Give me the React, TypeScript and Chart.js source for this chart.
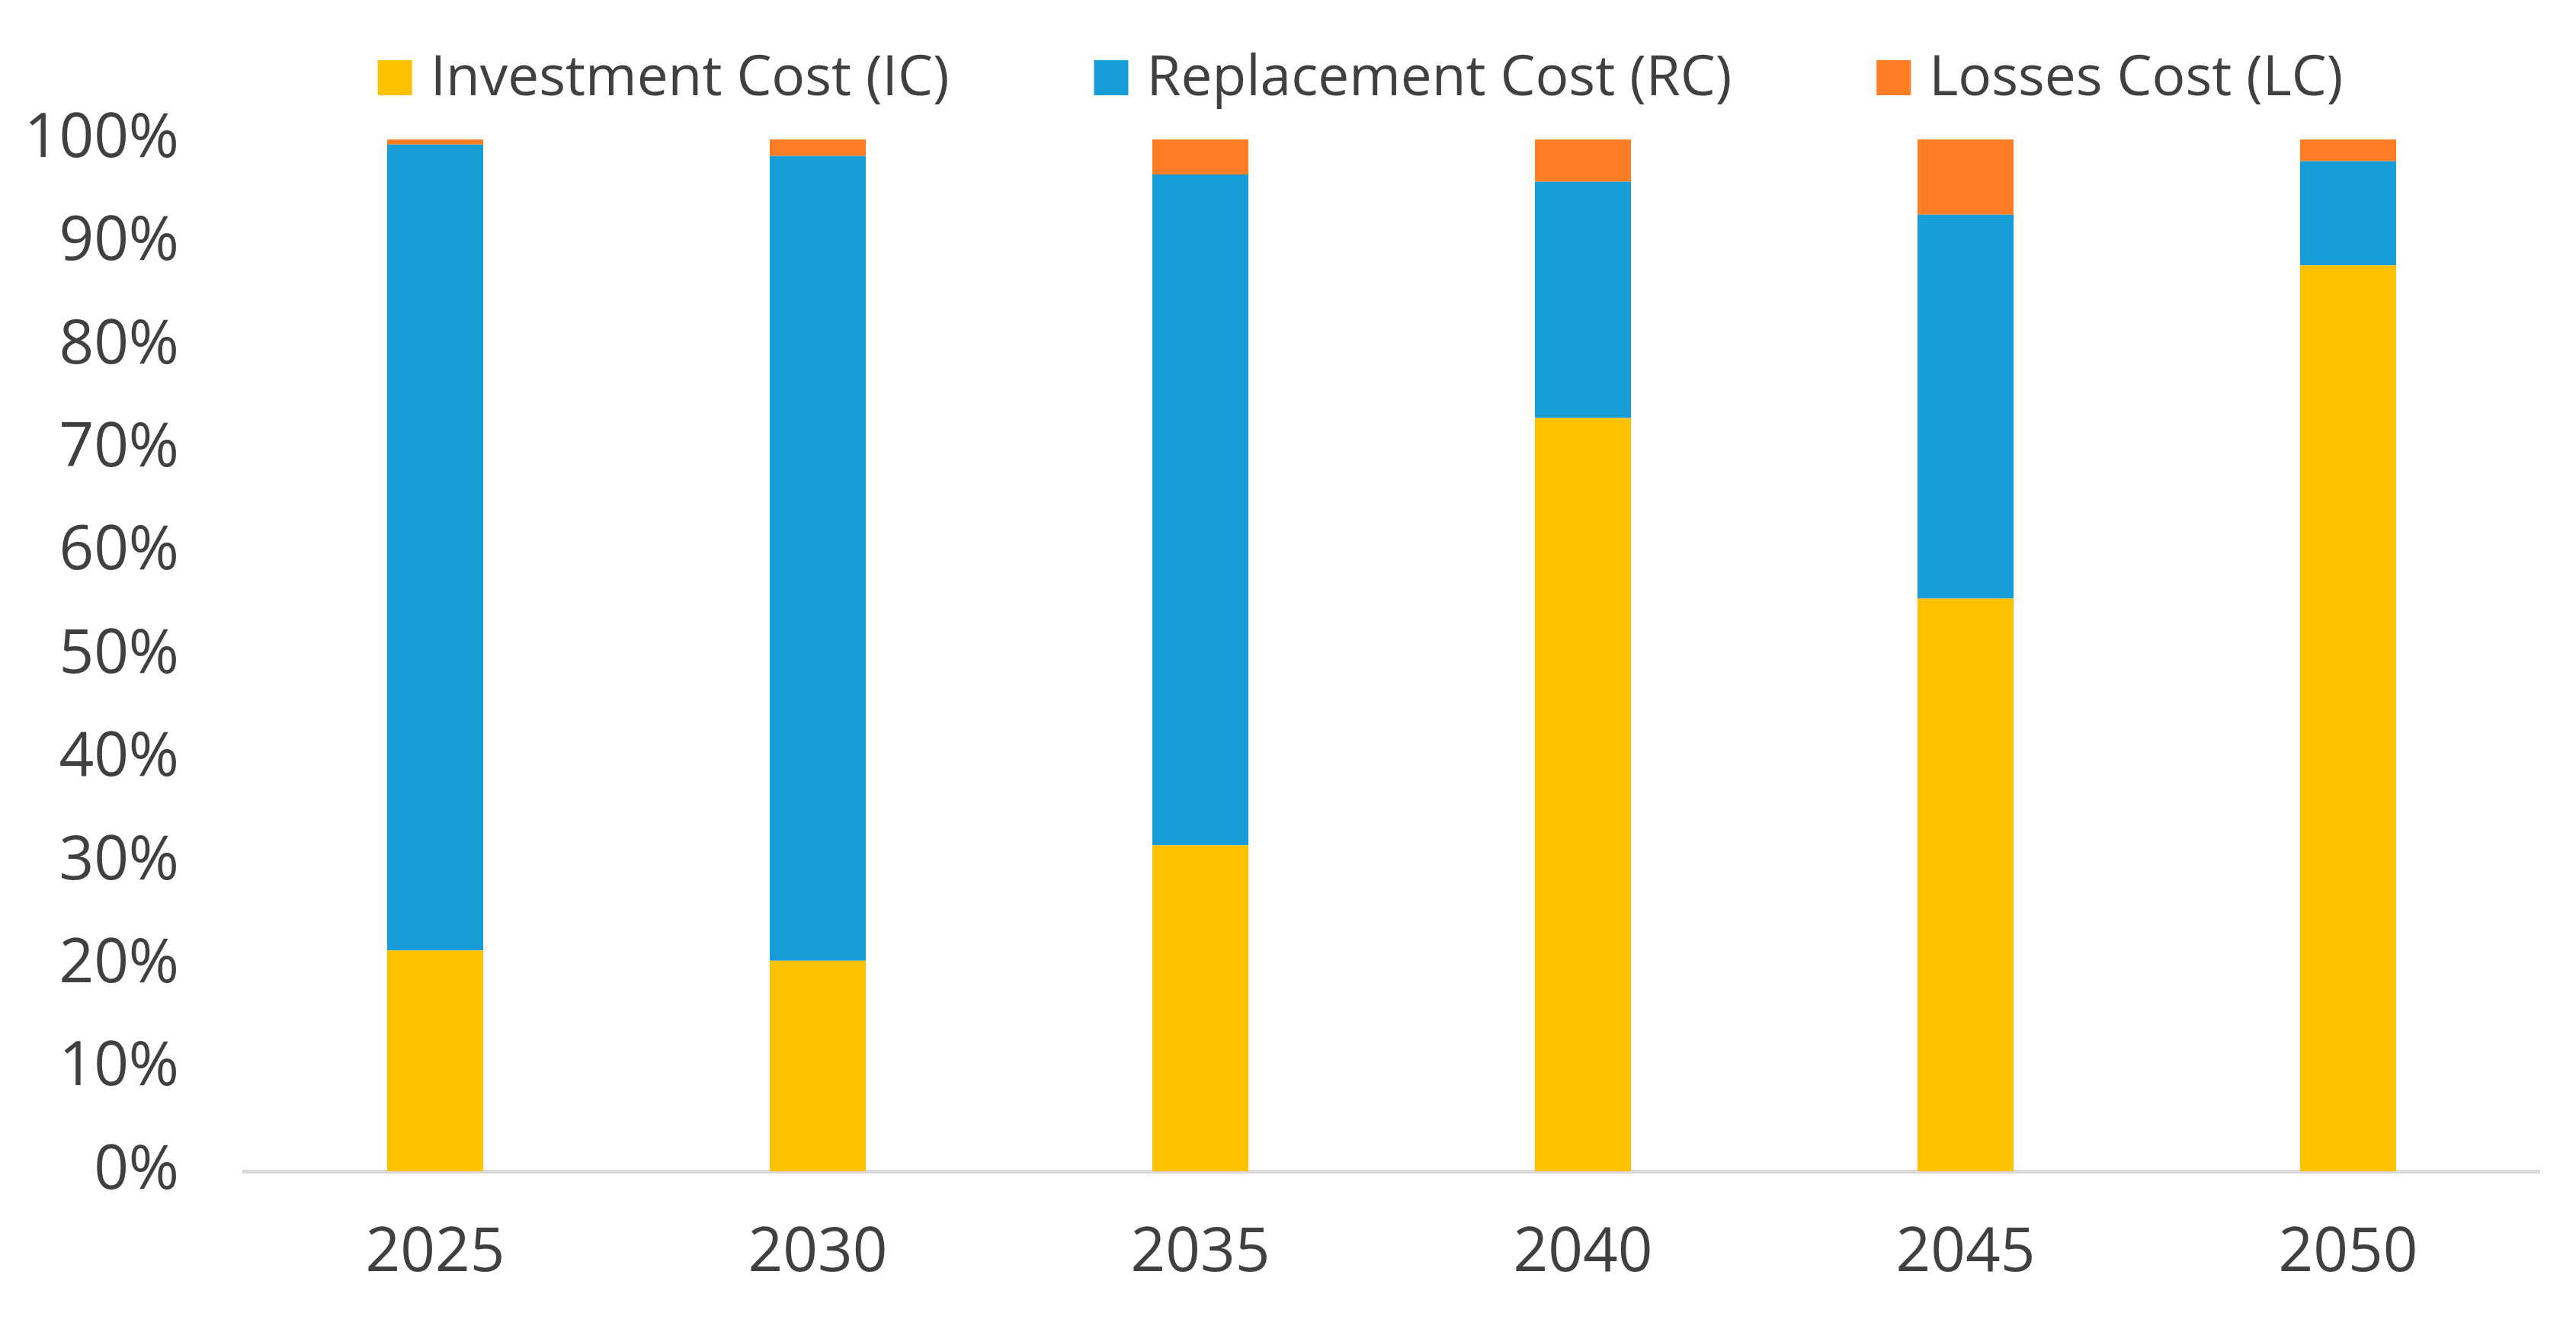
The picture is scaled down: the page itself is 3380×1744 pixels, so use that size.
import { useEffect, useRef } from "react";
import { Chart, registerables, type Plugin } from "chart.js";

Chart.register(...registerables);

const years = ["2025", "2030", "2035", "2040", "2045", "2050"];
const investmentCost = [21.4, 20.4, 31.6, 73.0, 55.5, 87.8];
const replacementCost = [78.1, 78.0, 65.0, 22.9, 37.2, 10.1];
const lossesCost = [0.5, 1.6, 3.4, 4.1, 7.3, 2.1];

const FONT = '"Open Sans", "Liberation Sans", sans-serif';
const TEXT = "#404040";

// legend drawn by hand so it can sit a bit left of the plot centre, like the Excel original
const topLegend: Plugin<"bar"> = {
  id: "topLegend",
  afterDraw(chart) {
    const { ctx } = chart;
    const box = 45;
    const gapText = 24;
    const gapItem = 190;
    const center = 1785;
    ctx.save();
    ctx.font = `73px ${FONT}`;
    const items = chart.data.datasets.map((ds) => ({
      label: ds.label ?? "",
      color: ds.backgroundColor as string,
      w: ctx.measureText(ds.label ?? "").width,
    }));
    const total =
      items.reduce((s, it) => s + box + gapText + it.w, 0) + gapItem * (items.length - 1);
    let x = center - total / 2;
    ctx.textBaseline = "alphabetic";
    for (const it of items) {
      ctx.fillStyle = it.color;
      ctx.fillRect(x, 79, box, 46);
      ctx.fillStyle = TEXT;
      ctx.fillText(it.label, x + box + gapText, 125);
      x += box + gapText + it.w + gapItem;
    }
    ctx.restore();
  },
};

export default function App() {
  const ref = useRef<HTMLCanvasElement>(null);

  useEffect(() => {
    if (!ref.current) return;
    const bar = { barPercentage: 0.251, categoryPercentage: 1, borderWidth: 0 };
    const chart = new Chart(ref.current, {
      type: "bar",
      data: {
        labels: years,
        datasets: [
          { label: "Investment Cost (IC)", data: investmentCost, backgroundColor: "#FFC000", ...bar },
          { label: "Replacement Cost (RC)", data: replacementCost, backgroundColor: "#179CD8", ...bar },
          { label: "Losses Cost (LC)", data: lossesCost, backgroundColor: "#FD7E24", ...bar },
        ],
      },
      options: {
        responsive: true,
        maintainAspectRatio: false,
        animation: false,
        layout: { padding: { top: 183, right: 48, left: 0, bottom: 0 } },
        plugins: {
          legend: { display: false },
          tooltip: { enabled: false },
        },
        scales: {
          x: {
            stacked: true,
            grid: { display: false, drawTicks: false },
            border: { display: true, color: "#D9D9D9", width: 5 },
            ticks: { color: TEXT, font: { family: FONT, size: 80 }, padding: 60 },
            afterFit: (s) => {
              s.height = 207;
            },
          },
          y: {
            stacked: true,
            min: 0,
            max: 100,
            grid: { display: false, drawTicks: false },
            border: { display: false },
            ticks: {
              stepSize: 10,
              color: TEXT,
              font: { family: FONT, size: 80 },
              padding: 85,
              callback: (v) => v + "%",
            },
            afterFit: (s) => {
              s.width = 320;
            },
          },
        },
      },
      plugins: [topLegend],
    });
    return () => {
      chart.destroy();
    };
  }, []);

  return (
    <div style={{ position: "fixed", left: 0, top: 0, width: 3380, height: 1744, background: "#fff" }}>
      <canvas ref={ref} />
    </div>
  );
}
